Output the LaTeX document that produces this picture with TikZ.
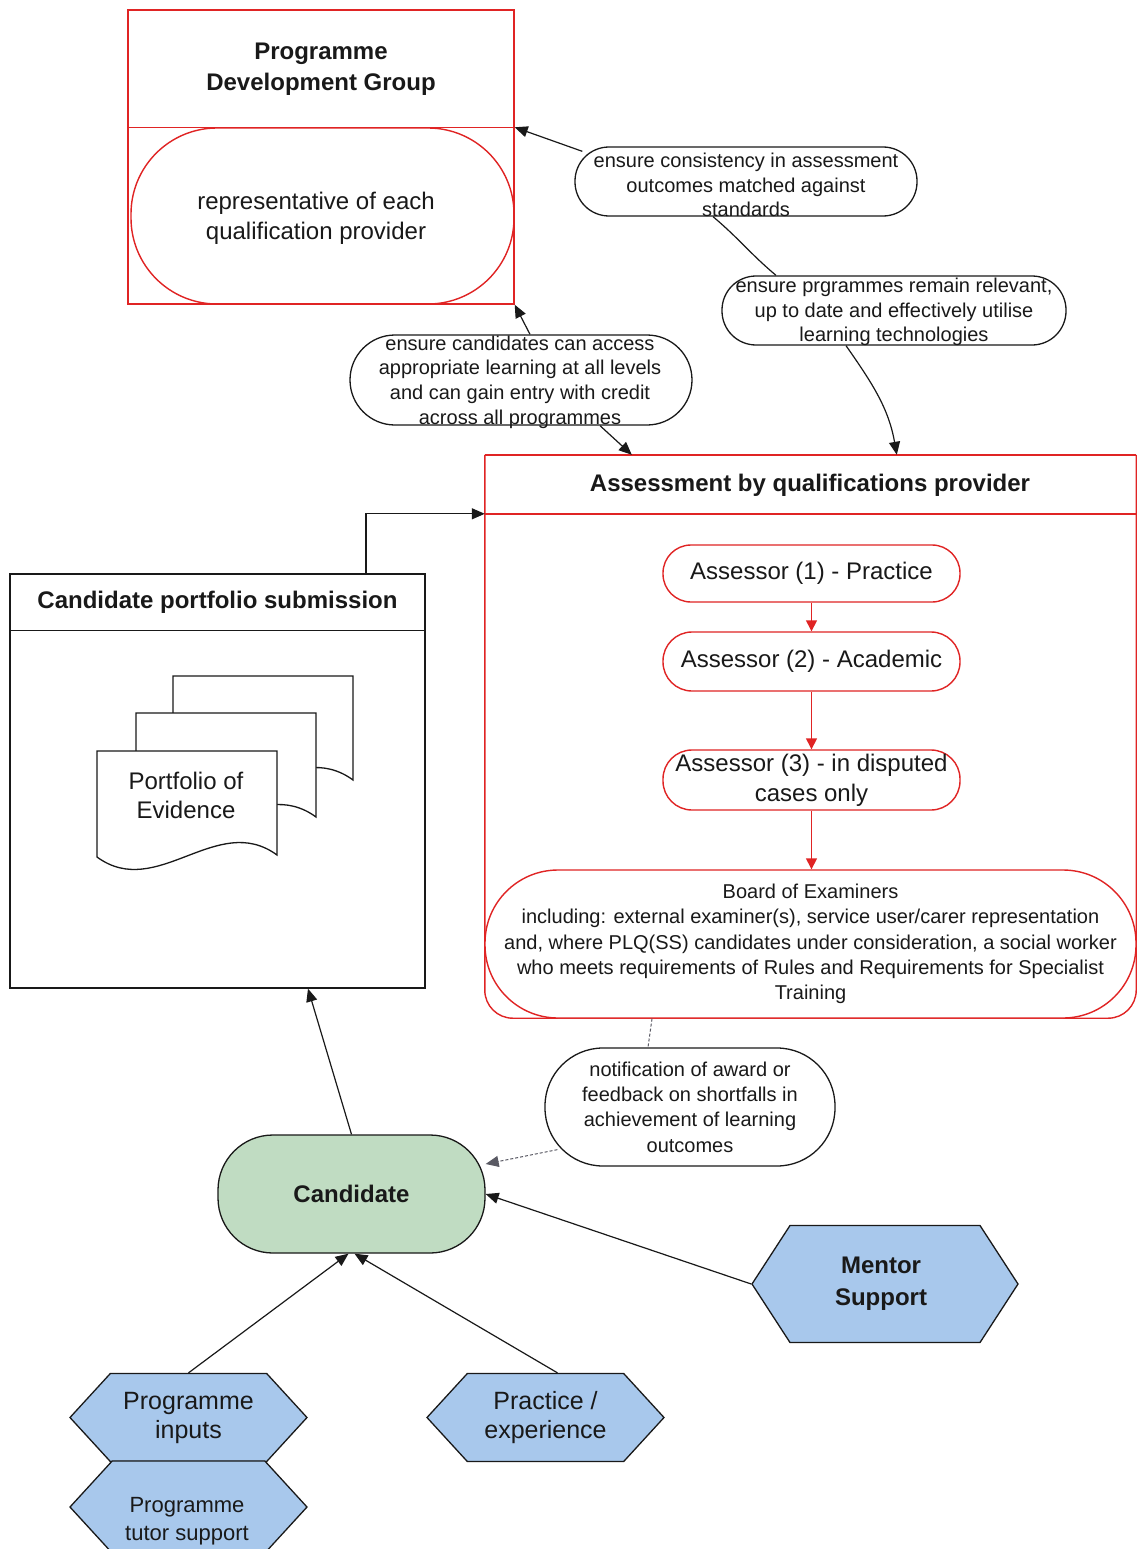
\documentclass[tikz,border=0pt]{standalone}
\usepackage{fontspec}
\setmainfont{Liberation Sans}
\usetikzlibrary{arrows.meta,shapes.symbols}
\definecolor{rd}{RGB}{224,36,36}
\definecolor{grn}{RGB}{192,220,194}
\definecolor{blu}{RGB}{168,200,236}
\definecolor{ink}{RGB}{25,25,25}
\definecolor{dgray}{RGB}{90,90,100}
\begin{document}
\begin{tikzpicture}[x=1pt,y=-1pt,
  txt/.style={inner sep=0pt, align=center, text=ink},
  big/.style={txt, font=\fontsize{24}{30}\selectfont},
  bigb/.style={txt, font=\bfseries\fontsize{24}{31}\selectfont},
  small/.style={txt, font=\fontsize{20}{24.6}\selectfont},
  redshape/.style={draw=rd, line width=1.4pt, inner sep=0pt},
  redline/.style={draw=rd, line width=1.4pt},
  blkbox/.style={draw=ink, line width=1.3pt, inner sep=0pt},
  pill/.style={draw=ink, line width=1.3pt, fill=white, inner sep=0pt},
  hexa/.style={shape=signal, signal to=west and east, draw=ink, line width=1.3pt, fill=blu, inner sep=0pt},
  conn/.style={draw=ink, line width=1.2pt},
  tip/.style={-{Triangle[length=13pt,width=11pt]}},
  redarr/.style={draw=rd, line width=1.4pt, -{Triangle[length=11pt,width=11pt]}},
  dsh/.style={draw=dgray, line width=1pt, dash pattern=on 3pt off 2pt},
  docshape/.style={draw=ink, line width=1.3pt, fill=white},
]
\useasboundingbox (0,0) rectangle (1137,1549);
\fill[white] (0,0) rectangle (1137,1549);

% Programme Development Group
\node[redshape, minimum width=386pt, minimum height=294pt] (pdg) at (321,157) {};
\draw[redline] ([yshift=-118pt]pdg.north west) -- ([yshift=-118pt]pdg.north east);
\node[bigb] (pdgt) at (321,69) {Programme\\Development Group};
\node[redshape, minimum width=383pt, minimum height=176pt, rounded corners=86pt] (pdgi) at (322.5,216) {};
\node[big] (pdgtx) at (316,218) {representative of each\\qualification provider};

% Assessment container
\node[inner sep=0pt, minimum width=651pt, minimum height=563pt] (asb) at (810.5,736.5) {};
\draw[redline, rounded corners=28pt] (asb.north west) -- (asb.south west) -- (asb.south east) -- (asb.north east);
\draw[redline] (asb.north west) -- (asb.north east);
\draw[redline] ([yshift=-59pt]asb.north west) -- ([yshift=-59pt]asb.north east);
\node[bigb] (ast) at (810,485) {Assessment by qualifications provider};
\node[redshape, fill=white, minimum width=297pt, minimum height=57pt, rounded corners=28pt, big] (a1) at (811.5,573.5) {\raisebox{-2pt}{Assessor (1) - Practice}};
\node[redshape, fill=white, minimum width=297pt, minimum height=59pt, rounded corners=29pt, big] (a2) at (811.5,661.5) {\raisebox{-2pt}{Assessor (2) - Academic}};
\node[redshape, fill=white, minimum width=297pt, minimum height=60pt, rounded corners=29pt, big] (a3) at (811.5,780) {Assessor (3) - in disputed\\cases only};
\node[redshape, fill=white, minimum width=651pt, minimum height=148pt, rounded corners=73pt, txt, font=\fontsize{20}{25.2}\selectfont] (boe) at (810.5,944) {Board of Examiners\\including: external examiner(s), service user/carer representation\\and, where PLQ(SS) candidates under consideration, a social worker\\who meets requirements of Rules and Requirements for Specialist\\Training};
\draw[redarr] (a1.south) -- (a2.north);
\draw[redarr] (a2.south) -- (a3.north);
\draw[redarr] (a3.south) -- (a3.south |- boe.north);

% Candidate portfolio submission
\node[blkbox, minimum width=415pt, minimum height=414pt] (cps) at (217.5,781) {};
\draw[conn] ([yshift=-57pt]cps.north west) -- ([yshift=-57pt]cps.north east);
\node[bigb] (cpst) at (217.5,602) {Candidate portfolio submission};
\foreach \dx/\dy in {173/676, 136/713, 97/751}{
  \draw[docshape, shift={(\dx,\dy)}] (0,106) -- (0,0) -- (180,0) -- (180,104)
     .. controls (120,60) and (60,150) .. (0,106) -- cycle;
}
\node[big, font=\fontsize{24}{29}\selectfont] (doct) at (186,795) {Portfolio of\\Evidence};

% Candidate and supports
\node[draw=ink, line width=1.3pt, fill=grn, minimum width=267pt, minimum height=118pt, rounded corners=55pt, txt, font=\bfseries\fontsize{24}{30}\selectfont] (cand) at (351.5,1194) {Candidate};
\node[hexa, signal pointer angle=114, minimum width=266pt, minimum height=117pt] (ment) at (885,1284) {};
\node[txt, font=\bfseries\fontsize{24}{32}\selectfont] (mentx) at (881,1284) {Mentor\\Support};
\node[hexa, signal pointer angle=95, minimum width=237pt, minimum height=88pt, txt, font=\fontsize{25}{29}\selectfont] (pin) at (188.5,1417.5) {Programme\\inputs};
\node[hexa, signal pointer angle=95, minimum width=237pt, minimum height=92pt] (ptut) at (188.5,1507) {};
\node[txt, font=\fontsize{22}{28}\selectfont] (ptutx) at (187,1521) {Programme\\tutor support};
\node[hexa, signal pointer angle=95, minimum width=237pt, minimum height=88pt, txt, font=\fontsize{25}{29}\selectfont] (prac) at (545.5,1417.5) {Practice /\\experience};

% Notification label
\node[pill, minimum width=290pt, minimum height=118pt, rounded corners=58pt, small, font=\fontsize{20}{25.3}\selectfont] (notif) at (690,1107) {notification of award or\\feedback on shortfalls in\\achievement of learning\\outcomes};

% Top labels
\node[pill, minimum width=342pt, minimum height=69pt, rounded corners=34pt] (l1) at (746,181.5) {};
\node[small] (l1x) at (746,185) {ensure consistency in assessment\\outcomes matched against\\standards};
\node[pill, minimum width=344pt, minimum height=69pt, rounded corners=34pt] (l2) at (894,310.5) {};
\node[small] (l2x) at (894,312) {ensure prgrammes remain relevant,\\up to date and effectively utilise\\learning technologies};
\node[pill, minimum width=342pt, minimum height=90pt, rounded corners=45pt] (l3) at (521,380) {};
\node[small] (l3x) at (520,382) {ensure candidates can access\\appropriate learning at all levels\\and can gain entry with credit\\across all programmes};

% Connectors
\draw[conn, tip] ([xshift=8pt,yshift=-5pt]l1.north west) -- ([yshift=-118pt]pdg.north east);
\draw[conn] ([xshift=-33pt]l1.south) to[out=-40,in=140] ([xshift=-118pt]l2.north);
\draw[conn, tip] ([xshift=-48pt]l2.south) to[out=-55,in=100] ([xshift=412pt]asb.north west);
\draw[conn, tip] ([xshift=9pt]l3.north) -- (pdg.south east);
\draw[conn, tip] ([xshift=79pt]l3.south) -- ([xshift=147pt]asb.north west);
\draw[conn, tip] ([xshift=148.5pt]cps.north) |- ([yshift=-59pt]asb.north west);
\draw[conn, tip] (cand.north) -- ([xshift=90.5pt]cps.south);
\draw[dsh] ([xshift=-158.5pt]boe.south) -- ([xshift=-42pt]notif.north);
\draw[dsh, tip] ([xshift=13pt,yshift=17pt]notif.south west) -- ([yshift=30pt]cand.east);
\draw[conn, tip] (ment.west) -- (cand.east);
\draw[conn, tip] (pin.north) -- ([xshift=-3pt]cand.south);
\draw[conn, tip] ([xshift=12pt]prac.north) -- ([xshift=3pt]cand.south);
\end{tikzpicture}
\end{document}
